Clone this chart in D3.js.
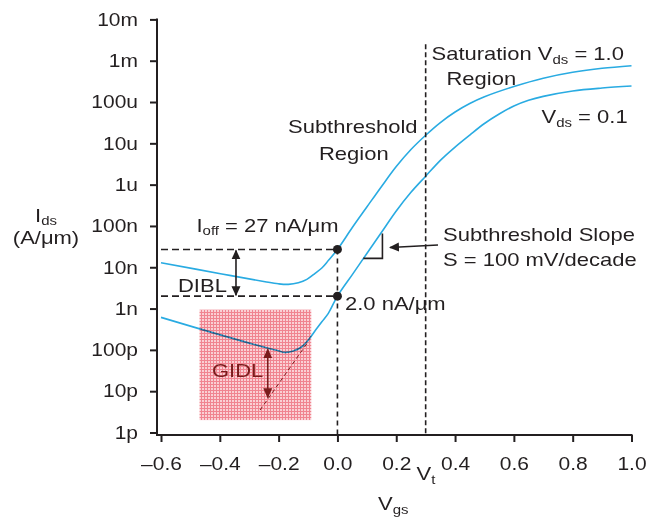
<!DOCTYPE html>
<html><head><meta charset="utf-8">
<script src="https://cdn.jsdelivr.net/npm/d3@7"></script>
<style>
html,body{margin:0;padding:0;background:#fff;}
svg{display:block;font-family:"Liberation Sans",Arial,Helvetica,sans-serif;}
</style></head>
<body>
<svg id="chart" width="647" height="518"></svg>
<script>
// ---- data ----
const vgsHi = [-0.6, -0.393, -0.246, -0.201, -0.167, -0.133, -0.104, -0.076, -0.053, -0.031, 0.0, 0.05, 0.1, 0.15, 0.2, 0.25, 0.3, 0.35, 0.4, 0.45, 0.5, 0.6, 0.7, 0.8, 0.9, 1.0];
const idsHi = [1.29e-8, 6.9e-9, 4.46e-9, 3.98e-9, 3.86e-9, 4.22e-9, 5.09e-9, 7.11e-9, 9.6e-9, 1.45e-8, 2.7e-8, 9.04e-8, 2.87e-7, 9.06e-7, 2.74e-6, 7.08e-6, 1.57e-5, 3.19e-5, 5.73e-5, 9.2e-5, 1.34e-4, 2.37e-4, 3.77e-4, 5.24e-4, 6.55e-4, 7.57e-4];
const vgsLo = [-0.6, -0.416, -0.235, -0.201, -0.178, -0.150, -0.121, -0.099, -0.076, -0.053, -0.031, 0.0, 0.05, 0.1, 0.15, 0.2, 0.25, 0.3, 0.35, 0.4, 0.45, 0.5, 0.55, 0.6, 0.65, 0.7, 0.8, 0.9, 1.0];
const idsLo = [6.12e-10, 2.51e-10, 1.09e-10, 9.5e-11, 8.7e-11, 9.35e-11, 1.19e-10, 1.73e-10, 2.9e-10, 4.79e-10, 7.65e-10, 2.0e-9, 6.55e-9, 2.15e-8, 7.04e-8, 2.30e-7, 6.51e-7, 1.60e-6, 3.88e-6, 8.13e-6, 1.59e-5, 3.02e-5, 5.12e-5, 8.0e-5, 1.10e-4, 1.37e-4, 1.85e-4, 2.18e-4, 2.44e-4];

const xTickVals = [-0.6, -0.4, -0.2, 0.0, 0.2, 0.4, 0.6, 0.8, 1.0];
const xTickLabels = ["–0.6", "–0.4", "–0.2", "0.0", "0.2", "0.4", "0.6", "0.8", "1.0"];
const yTickVals = [1e-2, 1e-3, 1e-4, 1e-5, 1e-6, 1e-7, 1e-8, 1e-9, 1e-10, 1e-11, 1e-12];
const yTickLabels = ["10m", "1m", "100u", "10u", "1u", "100n", "10n", "1n", "100p", "10p", "1p"];

const ioff = 27e-9;      // Ioff at Vgs=0, Vds=1.0
const ioffLow = 2.0e-9;  // at Vgs=0, Vds=0.1
const vt = 0.3;
const vtTop = 2.5e-3;
const dibIV = -0.345;                 // DIBL arrow Vgs
const gidlArrow = [-0.237, 1.03e-10, 7.1e-12]; // V, Itop, Ibottom
const gidlExtrapV = [-0.263, -0.099];
const gidlExtrapI = [3.5e-12, 1.59e-10];
const gidlBoxV = [-0.469, -0.089];
const gidlBoxI = [9.4e-10, 2.0e-12];
const slopeTriV = [0.088, 0.153];
const slopeTriI = [1.64e-8, 6.6e-8];

// ---- scales ----
const svg = d3.select("#chart");
const x = d3.scaleLinear().domain([-0.6, 1.0]).range([161, 631.5]);
const y = d3.scaleLog().domain([1e-12, 1e-2]).range([432.5, 19.4]);
const ink = "#231f20";
const blue = "#29abe2";
const dred = "#7a1c1c";
const VS = 0.86; // vertical squash of glyphs

function squash(sel){
  sel.each(function(){
    const t = d3.select(this);
    const tx = +t.attr("x") || 0, ty = +t.attr("y") || 0;
    t.attr("x", 0).attr("y", 0).attr("transform", `translate(${tx},${ty}) scale(1,${VS})`);
  });
}

// defs: pattern and arrow markers
const defs = svg.append("defs");
const pat = defs.append("pattern").attr("id","pinkgrid").attr("patternUnits","userSpaceOnUse")
  .attr("width",3).attr("height",3);
pat.append("rect").attr("width",3).attr("height",3).attr("fill","#fad0d4");
pat.append("rect").attr("width",3).attr("height",1).attr("fill","#f08490");
pat.append("rect").attr("width",1).attr("height",3).attr("fill","#f08490");

function marker(id, color){
  defs.append("marker").attr("id",id).attr("viewBox","0 0 10 10").attr("refX",9).attr("refY",5)
    .attr("markerWidth",10).attr("markerHeight",10).attr("markerUnits","userSpaceOnUse")
    .attr("orient","auto-start-reverse")
    .append("path").attr("d","M0,0.5 L10,5 L0,9.5 Z").attr("fill",color);
}
marker("arrK", ink);
marker("arrR", dred);

// ---- curves ----
const line = d3.line().x(d=>x(d[0])).y(d=>y(d[1])).curve(d3.curveCatmullRom.alpha(0.5));
svg.append("path").datum(d3.zip(vgsHi, idsHi)).attr("d", line)
  .attr("fill","none").attr("stroke",blue).attr("stroke-width",1.6);
svg.append("path").datum(d3.zip(vgsLo, idsLo)).attr("d", line)
  .attr("fill","none").attr("stroke",blue).attr("stroke-width",1.6);

// GIDL box (multiply over curve)
svg.append("rect")
  .attr("x", x(gidlBoxV[0])).attr("y", y(gidlBoxI[0]))
  .attr("width", x(gidlBoxV[1]) - x(gidlBoxV[0]))
  .attr("height", y(gidlBoxI[1]) - y(gidlBoxI[0]))
  .attr("fill","url(#pinkgrid)").style("mix-blend-mode","multiply");

// GIDL extrapolation dashed
svg.append("line")
  .attr("x1", x(gidlExtrapV[0])).attr("y1", y(gidlExtrapI[0]))
  .attr("x2", x(gidlExtrapV[1])).attr("y2", y(gidlExtrapI[1]))
  .attr("stroke", dred).attr("stroke-width",1).attr("stroke-dasharray","4,3");

// GIDL arrow
svg.append("line")
  .attr("x1", x(gidlArrow[0])).attr("y1", y(gidlArrow[1]))
  .attr("x2", x(gidlArrow[0])).attr("y2", y(gidlArrow[2]))
  .attr("stroke", dred).attr("stroke-width",1.6)
  .attr("marker-start","url(#arrR)").attr("marker-end","url(#arrR)");

// ---- dashed reference lines ----
const dashK = (x1,y1,x2,y2,dash)=>svg.append("line").attr("x1",x1).attr("y1",y1).attr("x2",x2).attr("y2",y2)
  .attr("stroke",ink).attr("stroke-width",1.6).attr("stroke-dasharray",dash);
dashK(x(-0.6), y(ioff), x(0), y(ioff), "7,4");
dashK(x(-0.6), y(ioffLow), x(0), y(ioffLow), "7,4");
dashK(x(0), y(ioff), x(0), 435, "5,4");
dashK(x(vt), y(vtTop), x(vt), 435, "5,3");

// dots
[ioff, ioffLow].forEach(v=>svg.append("circle").attr("cx",x(0)).attr("cy",y(v)).attr("r",4.5).attr("fill",ink));

// DIBL arrow
svg.append("line")
  .attr("x1", x(dibIV)).attr("y1", y(ioff)+1)
  .attr("x2", x(dibIV)).attr("y2", y(ioffLow)-1)
  .attr("stroke", ink).attr("stroke-width",1.6)
  .attr("marker-start","url(#arrK)").attr("marker-end","url(#arrK)");

// slope triangle
svg.append("path")
  .attr("d", `M${x(slopeTriV[1])},${y(slopeTriI[1])} L${x(slopeTriV[1])},${y(slopeTriI[0])} L${x(slopeTriV[0])},${y(slopeTriI[0])}`)
  .attr("fill","none").attr("stroke",ink).attr("stroke-width",1.6);
// slope pointer arrow
svg.append("line").attr("x1",438).attr("y1",245).attr("x2",390).attr("y2",247.5)
  .attr("stroke",ink).attr("stroke-width",1.3).attr("marker-end","url(#arrK)");

// ---- axes ----
const gx = svg.append("g").attr("transform","translate(0,435)")
  .call(d3.axisBottom(x).tickValues(xTickVals).tickFormat((d,i)=>xTickLabels[i]).tickSize(7).tickPadding(15));
const gy = svg.append("g").attr("transform","translate(157,0)")
  .call(d3.axisLeft(y).tickValues(yTickVals).tickFormat((d,i)=>yTickLabels[i]).tickSize(7).tickPadding(12));
[gx, gy].forEach(g=>{
  g.select(".domain").remove();
  g.selectAll(".tick line").attr("stroke",ink).attr("stroke-width",2);
  g.selectAll(".tick text").attr("fill",ink).attr("font-size",21)
    .attr("font-family","Liberation Sans, Arial, sans-serif").call(squash);
});
svg.append("line").attr("x1",157).attr("y1",y(1e-2)-1).attr("x2",157).attr("y2",436).attr("stroke",ink).attr("stroke-width",2);
svg.append("line").attr("x1",156).attr("y1",435).attr("x2",632.5).attr("y2",435).attr("stroke",ink).attr("stroke-width",2);

// ---- texts ----
function plain(xp, yp, str, color, anchor){
  return svg.append("text").attr("x",xp).attr("y",yp).attr("font-size",22).attr("fill",color||ink)
    .attr("text-anchor", anchor||"start").text(str).call(squash);
}
function subText(xp, yp, parts, anchor, sub){
  const d = sub == null ? 4.5 : sub;
  const t = svg.append("text").attr("x",xp).attr("y",yp).attr("font-size",22).attr("fill",ink)
    .attr("text-anchor", anchor||"start");
  let shift = 0;
  parts.forEach(p=>{
    const s = t.append("tspan").text(p[0]);
    if (p[1]) { s.attr("font-size",15).attr("dy", d - shift); shift = d; }
    else { s.attr("dy", -shift); shift = 0; }
  });
  t.call(squash);
  return t;
}
subText(46, 221.5, [["I"],["ds",1]], "middle", 3.5);
plain(46, 244, "(A/μm)", ink, "middle");
subText(378, 510, [["V"],["gs",1]]);
subText(416.5, 480, [["V"],["t",1]]);
subText(431.5, 60, [["Saturation V"],["ds",1],[" = 1.0"]]);
plain(446.5, 85, "Region");
subText(541.5, 123, [["V"],["ds",1],[" = 0.1"]]);
plain(288, 133, "Subthreshold");
plain(319, 160, "Region");
subText(196.5, 231.5, [["I"],["off",1],[" = 27 nA/μm"]]);
plain(345, 310, "2.0 nA/μm");
plain(178, 292, "DIBL");
plain(443, 240.5, "Subthreshold Slope");
plain(443, 266, "S = 100 mV/decade");
plain(212, 377, "GIDL", dred);
</script>
</body></html>
